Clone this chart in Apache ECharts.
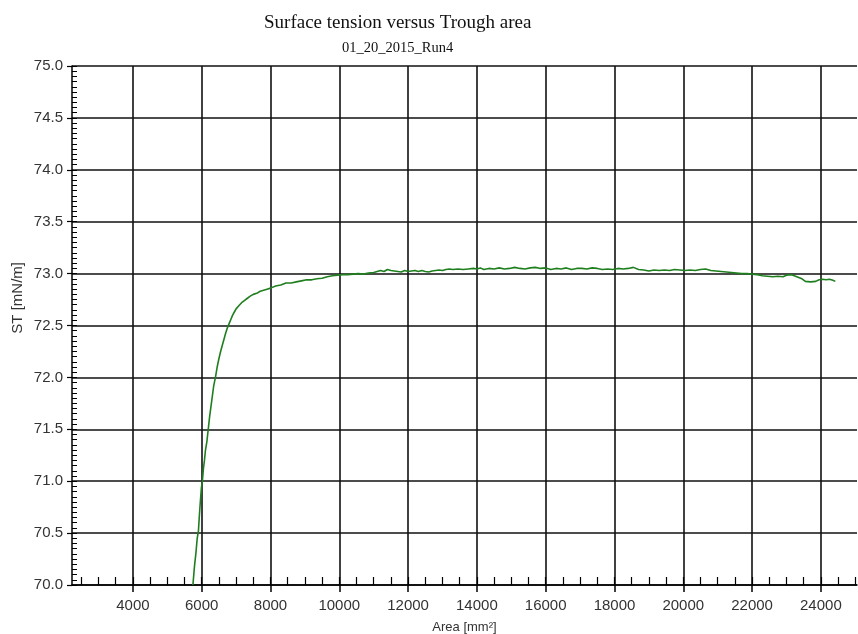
<!DOCTYPE html>
<html>
<head>
<meta charset="utf-8">
<script src="https://cdn.jsdelivr.net/npm/echarts@6/dist/echarts.min.js"></script>
<style>
html,body{margin:0;padding:0;background:#fff;}
#chart{width:858px;height:634px;}
</style>
</head>
<body>
<div id="chart"></div>
<script>
const titleText = 'Surface tension versus Trough area';
const subtitleText = '01_20_2015_Run4';
const xAxisName = 'Area [mm²]';
const yAxisName = 'ST [mN/m]';

const xMajorTicks = [4000, 6000, 8000, 10000, 12000, 14000, 16000, 18000, 20000, 22000, 24000];
const xMinorTicks = [2500, 3000, 3500, 4000, 4500, 5000, 5500, 6000, 6500, 7000, 7500, 8000, 8500, 9000, 9500,
  10000, 10500, 11000, 11500, 12000, 12500, 13000, 13500, 14000, 14500, 15000, 15500, 16000, 16500, 17000, 17500,
  18000, 18500, 19000, 19500, 20000, 20500, 21000, 21500, 22000, 22500, 23000, 23500, 24000, 24500, 25000];

const areaValues = [
  5745, 5790, 5830, 5870, 5905, 5935, 5960, 5990, 6020, 6050, 6080, 6110, 6150, 6190, 6230, 6270, 6310, 6350,
  6400, 6450, 6500, 6550, 6600, 6650, 6700, 6750, 6800, 6850, 6900, 6950, 7000, 7080, 7160, 7240, 7320, 7400,
  7500, 7600, 7700, 7800, 7900, 8000, 8150, 8300, 8450, 8600, 8750, 8900, 9050, 9200, 9350, 9500, 9650, 9800,
  9950, 10100, 10250, 10400, 10550, 10700, 10850, 11000, 11100, 11200, 11300, 11400, 11500, 11600, 11700, 11800,
  11900, 12000, 12100, 12200, 12300, 12400, 12500, 12600, 12700, 12800, 12900, 13000, 13100, 13200, 13300, 13450,
  13600, 13750, 13900, 14000, 14100, 14200, 14350, 14500, 14650, 14800, 14950, 15100, 15250, 15400, 15550, 15700,
  15850, 16000, 16150, 16300, 16450, 16600, 16750, 16900, 17050, 17200, 17350, 17500, 17650, 17800, 17950, 18100,
  18250, 18400, 18550, 18700, 18850, 19000, 19150, 19300, 19450, 19600, 19750, 19900, 20050, 20200, 20350, 20500,
  20650, 20800, 20950, 21100, 21250, 21400, 21550, 21700, 21850, 22000, 22150, 22300, 22450, 22600, 22750, 22900,
  23000, 23150, 23300, 23450, 23550, 23700, 23850, 23950, 24050, 24150, 24250, 24350, 24420
];
const tensionValues = [
  70.00, 70.18, 70.30, 70.45, 70.52, 70.68, 70.80, 70.93, 71.00, 71.12, 71.20, 71.30, 71.38, 71.50, 71.62, 71.72, 71.82, 71.92,
  72.00, 72.10, 72.18, 72.25, 72.31, 72.37, 72.43, 72.48, 72.52, 72.56, 72.60, 72.63, 72.66, 72.69, 72.72, 72.74, 72.76, 72.78,
  72.80, 72.81, 72.83, 72.84, 72.85, 72.86, 72.88, 72.89, 72.91, 72.91, 72.92, 72.93, 72.94, 72.94, 72.95, 72.955, 72.97, 72.98,
  72.985, 72.99, 72.99, 72.995, 73.00, 72.995, 73.005, 73.01, 73.02, 73.03, 73.02, 73.04, 73.03, 73.025, 73.02, 73.015,
  73.03, 73.02, 73.025, 73.03, 73.02, 73.03, 73.02, 73.015, 73.025, 73.03, 73.035, 73.03, 73.04, 73.045, 73.04, 73.045,
  73.04, 73.045, 73.05, 73.045, 73.055, 73.04, 73.05, 73.045, 73.055, 73.045, 73.05, 73.06, 73.05, 73.045, 73.055, 73.06,
  73.05, 73.055, 73.04, 73.05, 73.045, 73.055, 73.04, 73.05, 73.05, 73.045, 73.055, 73.05, 73.04, 73.045, 73.04, 73.05,
  73.045, 73.05, 73.06, 73.04, 73.035, 73.025, 73.035, 73.03, 73.035, 73.03, 73.04, 73.035, 73.03, 73.035, 73.03, 73.04,
  73.045, 73.03, 73.025, 73.02, 73.015, 73.01, 73.005, 73.00, 73.00, 72.995, 72.99, 72.98, 72.975, 72.97, 72.975, 72.97,
  72.985, 72.99, 72.97, 72.95, 72.925, 72.92, 72.925, 72.94, 72.945, 72.94, 72.945, 72.935, 72.925
];

const seriesData = areaValues.map((a, i) => [a, tensionValues[i]]);

const X_MIN = 2230, X_MAX = 25050;
const labelFont = 'Liberation Sans, Arial, sans-serif';

const chart = echarts.init(document.getElementById('chart'), null, {renderer: 'canvas'});
chart.setOption({
  animation: false,
  backgroundColor: '#ffffff',
  title: [
    {text: titleText, left: 259, top: 9,
     textStyle: {fontFamily: 'Liberation Serif, Times New Roman, serif', fontSize: 19, fontWeight: 'normal', color: '#111'}},
    {text: subtitleText, left: 337, top: 36,
     textStyle: {fontFamily: 'Liberation Serif, Times New Roman, serif', fontSize: 14.5, fontWeight: 'normal', color: '#111'}}
  ],
  graphic: [
    {type: 'text', left: 10, top: 262, rotation: Math.PI / 2,
     style: {text: yAxisName, font: '15px ' + labelFont, fill: '#333'}}
  ],
  grid: {left: 72, top: 66, right: 1, bottom: 49, containLabel: false, outerBoundsMode: 'none'},
  xAxis: [
    {type: 'value', min: X_MIN, max: X_MAX, position: 'bottom',
     name: xAxisName, nameLocation: 'middle', nameGap: 36,
     nameTextStyle: {fontFamily: labelFont, fontSize: 13, color: '#333'},
     axisLine: {show: true, onZero: false, lineStyle: {color: '#000', width: 1.5}},
     axisTick: {show: true, inside: false, length: 7, customValues: xMajorTicks, lineStyle: {color: '#000', width: 1.5}},
     axisLabel: {show: true, customValues: xMajorTicks, margin: 13, fontFamily: labelFont, fontSize: 15, color: '#333',
                 formatter: v => String(v)},
     splitLine: {show: true, lineStyle: {color: '#111', width: 1.6}}},
    {type: 'value', min: X_MIN, max: X_MAX, position: 'bottom',
     axisLine: {show: false, onZero: false},
     axisTick: {show: true, inside: true, length: 8, customValues: xMinorTicks, lineStyle: {color: '#000', width: 1.2}},
     axisLabel: {show: false},
     splitLine: {show: false}}
  ],
  yAxis: [
    {type: 'value', min: 70, max: 75, interval: 0.5, position: 'left',
     axisLine: {show: true, onZero: false, lineStyle: {color: '#000', width: 1.5}},
     axisTick: {show: true, inside: false, length: 5, lineStyle: {color: '#000', width: 1.2}},
     axisLabel: {show: true, margin: 9, fontFamily: labelFont, fontSize: 15, color: '#333',
                 formatter: v => v.toFixed(1)},
     splitLine: {show: true, lineStyle: {color: '#111', width: 1.6}}},
    {type: 'value', min: 70, max: 75, interval: 0.05, position: 'left',
     axisLine: {show: false, onZero: false},
     axisTick: {show: true, inside: true, length: 5, lineStyle: {color: '#000', width: 1}},
     axisLabel: {show: false},
     splitLine: {show: false}}
  ],
  series: [{
    type: 'line', xAxisIndex: 0, yAxisIndex: 0,
    data: seriesData, showSymbol: false, symbol: 'none', smooth: false,
    lineStyle: {color: '#1f7f1f', width: 1.6},
    z: 5
  }]
});
</script>
</body>
</html>
